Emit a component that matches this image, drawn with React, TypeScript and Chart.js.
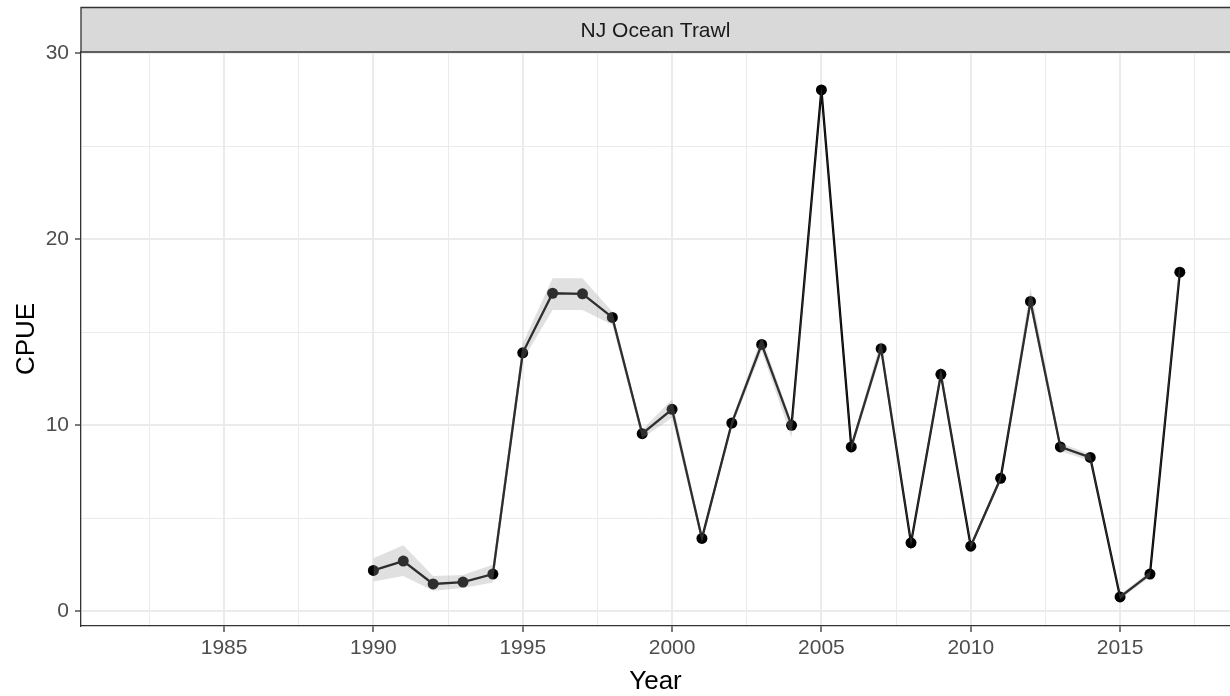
import React, { useEffect, useRef } from 'react';
import { Chart, registerables } from 'chart.js';
Chart.register(...registerables);

const years = [1990, 1991, 1992, 1993, 1994, 1995, 1996, 1997, 1998, 1999, 2000, 2001, 2002, 2003, 2004, 2005, 2006, 2007, 2008, 2009, 2010, 2011, 2012, 2013, 2014, 2015, 2016, 2017];
const cpue = [2.2, 2.7, 1.47, 1.57, 2.0, 13.9, 17.1, 17.07, 15.8, 9.55, 10.86, 3.92, 10.12, 14.35, 10.0, 28.03, 8.84, 14.12, 3.68, 12.74, 3.5, 7.15, 16.66, 8.84, 8.27, 0.77, 2.0, 18.23];
const lower = [1.6, 1.9, 1.1, 1.25, 1.55, 13.5, 16.2, 16.2, 15.4, 9.3, 10.4, 3.7, 9.9, 14.0, 9.35, 27.8, 8.6, 13.8, 3.5, 12.5, 3.35, 7.0, 16.3, 8.6, 8.1, 0.65, 1.85, 18.0];
const upper = [2.85, 3.55, 1.9, 1.95, 2.5, 14.4, 17.9, 17.9, 16.1, 9.75, 11.4, 4.1, 10.3, 14.75, 10.2, 28.2, 9.0, 14.6, 3.85, 13.1, 3.65, 7.3, 17.4, 9.05, 8.45, 0.9, 2.15, 18.85];

const xMajorTicks = [1985, 1990, 1995, 2000, 2005, 2010, 2015];
const xMinorTicks = [1982.5, 1987.5, 1992.5, 1997.5, 2002.5, 2007.5, 2012.5, 2017.5];
const yMajorTicks = [0, 10, 20, 30];
const yMinorTicks = [5, 15, 25];

const stripLabel = 'NJ Ocean Trawl';
const xTitle = 'Year';
const yTitle = 'CPUE';

const FONT = '"Liberation Sans", Arial, sans-serif';

export default function App() {
  const ref = useRef<HTMLCanvasElement | null>(null);

  useEffect(() => {
    document.body.style.margin = '0';
    const canvas = ref.current;
    if (!canvas) return;

    const isMajor = (arr: number[], v: number) => arr.some((m) => Math.abs(m - v) < 1e-6);

    const decorPlugin = {
      id: 'decor',
      afterDraw(chart: any) {
        const { ctx, chartArea } = chart;
        ctx.save();
        const stripTop = 7.5;
        ctx.fillStyle = '#D9D9D9';
        ctx.fillRect(chartArea.left, stripTop, chartArea.right - chartArea.left + 2, chartArea.top - stripTop);
        ctx.strokeStyle = '#333333';
        ctx.lineWidth = 1.3;
        ctx.beginPath();
        ctx.moveTo(chartArea.left, chartArea.top);
        ctx.lineTo(chartArea.left, stripTop);
        ctx.lineTo(chartArea.right + 2, stripTop);
        ctx.stroke();
        ctx.beginPath();
        ctx.lineWidth = 1.6;
        ctx.moveTo(chartArea.left, chartArea.top);
        ctx.lineTo(chartArea.right + 2, chartArea.top);
        ctx.stroke();
        ctx.fillStyle = '#1A1A1A';
        ctx.font = `21px ${FONT}`;
        ctx.textAlign = 'center';
        ctx.textBaseline = 'middle';
        ctx.fillText(stripLabel, (chartArea.left + chartArea.right) / 2, (stripTop + chartArea.top) / 2 + 1);
        ctx.fillStyle = '#000000';
        ctx.font = `26px ${FONT}`;
        ctx.textBaseline = 'alphabetic';
        ctx.fillText(xTitle, (chartArea.left + chartArea.right) / 2, 689);
        ctx.translate(33.5, (chartArea.top + chartArea.bottom) / 2);
        ctx.rotate(-Math.PI / 2);
        ctx.fillText(yTitle, 0, 0);
        ctx.restore();
      },
    };

    const chart = new Chart(canvas, {
      type: 'line',
      data: {
        datasets: [
          {
            label: 'lower',
            data: years.map((x, i) => ({ x, y: lower[i] })),
            borderWidth: 0,
            borderColor: 'rgba(0,0,0,0)',
            pointRadius: 0,
            fill: false,
          },
          {
            label: 'upper',
            data: years.map((x, i) => ({ x, y: upper[i] })),
            borderWidth: 0,
            borderColor: 'rgba(0,0,0,0)',
            backgroundColor: 'rgba(153,153,153,0.3)',
            pointRadius: 0,
            fill: '-1',
          },
          {
            label: 'CPUE',
            data: years.map((x, i) => ({ x, y: cpue[i] })),
            borderColor: '#000000',
            borderWidth: 2.3,
            pointRadius: 5.5,
            pointBackgroundColor: '#000000',
            pointBorderColor: '#000000',
            pointBorderWidth: 0,
            fill: false,
            tension: 0,
          },
        ],
      },
      options: {
        animation: false,
        responsive: false,
        devicePixelRatio: 1,
        layout: { autoPadding: false, padding: { top: 52, left: 0, right: 0, bottom: 0 } },
        plugins: { legend: { display: false }, tooltip: { enabled: false } },
        scales: {
          x: {
            type: 'linear',
            min: 1980.21,
            max: 2018.68,
            afterBuildTicks: (s: any) => {
              s.ticks = [...xMinorTicks, ...xMajorTicks].sort((a, b) => a - b).map((v) => ({ value: v }));
            },
            afterFit: (s: any) => {
              s.height = 70;
              s.paddingLeft = 0;
              s.paddingRight = 0;
            },
            ticks: {
              autoSkip: false,
              maxRotation: 0,
              padding: 4,
              color: '#4D4D4D',
              font: { size: 21, family: FONT },
              callback: (v: any) => (isMajor(xMajorTicks, Number(v)) ? String(v) : ''),
            },
            grid: {
              color: '#EBEBEB',
              lineWidth: (c: any) => (c.tick && isMajor(xMajorTicks, c.tick.value) ? 2 : 1),
              tickColor: (c: any) => (c.tick && isMajor(xMajorTicks, c.tick.value) ? '#333333' : 'rgba(0,0,0,0)'),
              tickWidth: 1.3,
              tickLength: 6,
              drawTicks: true,
            },
            border: { display: true, color: '#333333', width: 1.3 },
          },
          y: {
            type: 'linear',
            min: -0.79,
            max: 30.07,
            afterBuildTicks: (s: any) => {
              s.ticks = [...yMinorTicks, ...yMajorTicks].sort((a, b) => a - b).map((v) => ({ value: v }));
            },
            afterFit: (s: any) => {
              s.width = 81;
              s.paddingTop = 0;
              s.paddingBottom = 0;
            },
            ticks: {
              autoSkip: false,
              padding: 6,
              color: '#4D4D4D',
              font: { size: 21, family: FONT },
              callback: (v: any) => (isMajor(yMajorTicks, Number(v)) ? String(v) : ''),
            },
            grid: {
              color: '#EBEBEB',
              lineWidth: (c: any) => (c.tick && isMajor(yMajorTicks, c.tick.value) ? 2 : 1),
              tickColor: (c: any) => (c.tick && isMajor(yMajorTicks, c.tick.value) ? '#333333' : 'rgba(0,0,0,0)'),
              tickWidth: 1.3,
              tickLength: 6,
              drawTicks: true,
            },
            border: { display: true, color: '#333333', width: 1.3 },
          },
        },
      },
      plugins: [decorPlugin],
    } as any);

    return () => chart.destroy();
  }, []);

  return (
    <div style={{ width: 1230, height: 696, background: '#ffffff' }}>
      <canvas ref={ref} width={1230} height={696} style={{ display: 'block' }} />
    </div>
  );
}
